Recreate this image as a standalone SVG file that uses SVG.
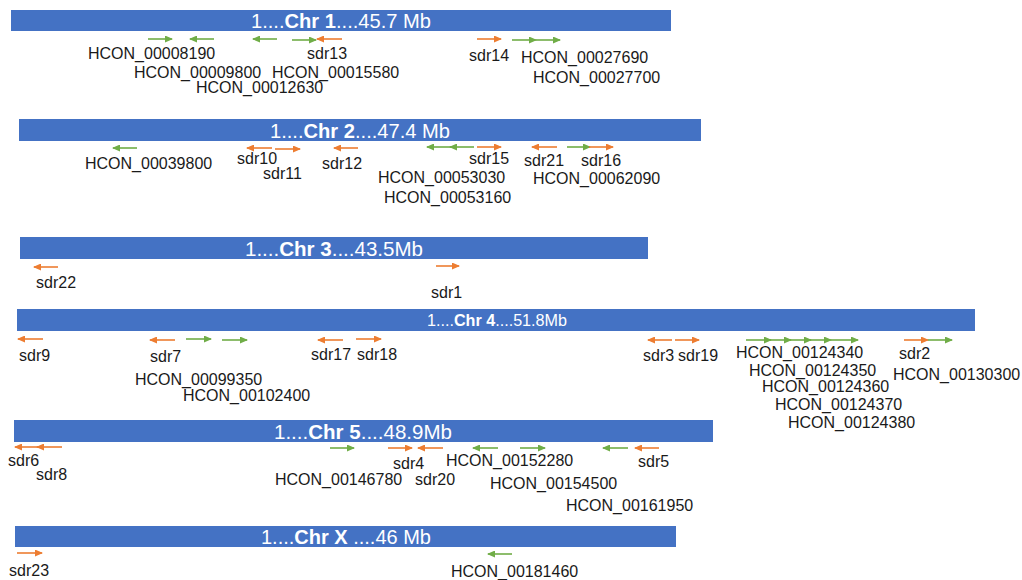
<svg xmlns="http://www.w3.org/2000/svg" width="1022" height="580" viewBox="0 0 1022 580">
  <style>
    .bar { fill: #4472C4; }
    .title { fill: #ffffff; font-family: "Liberation Sans", Arial, sans-serif; font-size: 21px; text-anchor: middle; }
    .title tspan.b { font-weight: bold; }
    .lbl { fill: #1a1a1a; font-family: "Liberation Sans", Arial, sans-serif; font-size: 16px; }
    .sdr { stroke: #ED7D31; stroke-width: 1.6; fill: none; marker-end: url(#headO); }
    .gene { stroke: #70AD47; stroke-width: 1.6; fill: none; marker-end: url(#headG); }
  </style>
  <defs>
    <marker id="headO" markerUnits="userSpaceOnUse" markerWidth="8" markerHeight="7" refX="7" refY="3.5" orient="auto">
      <path d="M0,0 L8,3.5 L0,7 Z" fill="#ED7D31"/>
    </marker>
    <marker id="headG" markerUnits="userSpaceOnUse" markerWidth="8" markerHeight="7" refX="7" refY="3.5" orient="auto">
      <path d="M0,0 L8,3.5 L0,7 Z" fill="#70AD47"/>
    </marker>
  </defs>
  <rect width="1022" height="580" fill="#ffffff"/>

  <!-- Chromosome 1 -->
  <g id="chr1">
    <rect class="bar" x="11" y="10" width="660" height="21"/>
    <text class="title" x="341" y="28" textLength="180" lengthAdjust="spacingAndGlyphs">1....<tspan class="b">Chr 1</tspan>....45.7 Mb</text>
  </g>
  <g id="chr1-labels" class="lbl">
    <text x="88" y="59">HCON_00008190</text>
    <text x="307" y="59">sdr13</text>
    <text x="134" y="78">HCON_00009800</text>
    <text x="272" y="78">HCON_00015580</text>
    <text x="196" y="93">HCON_00012630</text>
    <text x="469" y="61">sdr14</text>
    <text x="521" y="63">HCON_00027690</text>
    <text x="533" y="83">HCON_00027700</text>
  </g>

  <!-- Chromosome 2 -->
  <g id="chr2">
    <rect class="bar" x="19" y="119" width="682" height="22"/>
    <text class="title" x="360" y="138" textLength="180" lengthAdjust="spacingAndGlyphs">1....<tspan class="b">Chr 2</tspan>....47.4 Mb</text>
  </g>
  <g id="chr2-labels" class="lbl">
    <text x="85" y="169">HCON_00039800</text>
    <text x="237" y="164">sdr10</text>
    <text x="263" y="179">sdr11</text>
    <text x="322" y="169">sdr12</text>
    <text x="469" y="164">sdr15</text>
    <text x="524" y="166">sdr21</text>
    <text x="581" y="166">sdr16</text>
    <text x="378" y="183">HCON_00053030</text>
    <text x="533" y="184">HCON_00062090</text>
    <text x="384" y="203">HCON_00053160</text>
  </g>

  <!-- Chromosome 3 -->
  <g id="chr3">
    <rect class="bar" x="20" y="237" width="628" height="22"/>
    <text class="title" x="334" y="256" textLength="178" lengthAdjust="spacingAndGlyphs">1....<tspan class="b">Chr 3</tspan>....43.5Mb</text>
  </g>
  <g id="chr3-labels" class="lbl">
    <text x="36" y="288">sdr22</text>
    <text x="431" y="298">sdr1</text>
  </g>

  <!-- Chromosome 4 -->
  <g id="chr4">
    <rect class="bar" x="17" y="309" width="958" height="22"/>
    <text class="title" x="497" y="326" style="font-size:16px" textLength="140" lengthAdjust="spacingAndGlyphs">1....<tspan class="b">Chr 4</tspan>....51.8Mb</text>
  </g>
  <g id="chr4-labels" class="lbl">
    <text x="19" y="361">sdr9</text>
    <text x="150" y="362">sdr7</text>
    <text x="311" y="360">sdr17</text>
    <text x="357" y="360">sdr18</text>
    <text x="135" y="385">HCON_00099350</text>
    <text x="183" y="401">HCON_00102400</text>
    <text x="643" y="361">sdr3</text>
    <text x="678" y="361">sdr19</text>
    <text x="736" y="358">HCON_00124340</text>
    <text x="749" y="376">HCON_00124350</text>
    <text x="762" y="392">HCON_00124360</text>
    <text x="775" y="410">HCON_00124370</text>
    <text x="788" y="428">HCON_00124380</text>
    <text x="899" y="359">sdr2</text>
    <text x="893" y="380">HCON_00130300</text>
  </g>

  <!-- Chromosome 5 -->
  <g id="chr5">
    <rect class="bar" x="14" y="420" width="699" height="22"/>
    <text class="title" x="363" y="439" textLength="178" lengthAdjust="spacingAndGlyphs">1....<tspan class="b">Chr 5</tspan>....48.9Mb</text>
  </g>
  <g id="chr5-labels" class="lbl">
    <text x="8" y="466">sdr6</text>
    <text x="36" y="480">sdr8</text>
    <text x="275" y="485">HCON_00146780</text>
    <text x="393" y="469">sdr4</text>
    <text x="415" y="485">sdr20</text>
    <text x="446" y="466">HCON_00152280</text>
    <text x="490" y="489">HCON_00154500</text>
    <text x="638" y="467">sdr5</text>
    <text x="566" y="511">HCON_00161950</text>
  </g>

  <!-- Chromosome X -->
  <g id="chrX">
    <rect class="bar" x="15" y="526" width="661" height="21"/>
    <text class="title" x="346" y="544" textLength="170" lengthAdjust="spacingAndGlyphs">1....<tspan class="b">Chr X</tspan> ....46 Mb</text>
  </g>
  <g id="chrX-labels" class="lbl">
    <text x="9" y="576">sdr23</text>
    <text x="451" y="577">HCON_00181460</text>
  </g>

  <!-- Gene position arrows (orange: sdr, green: HCON) -->
  <g id="connectors">
    <!-- Chr 1 -->
    <line class="gene" x1="148" y1="39" x2="172" y2="39"/>
    <line class="gene" x1="214" y1="39" x2="190" y2="39"/>
    <line class="gene" x1="277" y1="39" x2="253" y2="39"/>
    <line class="gene" x1="292" y1="40" x2="316" y2="40"/>
    <line class="sdr" x1="342" y1="39" x2="317" y2="39"/>
    <line class="sdr" x1="477" y1="39" x2="501" y2="39"/>
    <line class="gene" x1="512" y1="40" x2="536" y2="40"/>
    <line class="gene" x1="536" y1="40" x2="560" y2="40"/>
    <!-- Chr 2 -->
    <line class="gene" x1="137" y1="148" x2="113" y2="148"/>
    <line class="sdr" x1="272" y1="148" x2="247" y2="148"/>
    <line class="sdr" x1="275" y1="149" x2="300" y2="149"/>
    <line class="sdr" x1="358" y1="148" x2="334" y2="148"/>
    <line class="gene" x1="451" y1="147" x2="427" y2="147"/>
    <line class="gene" x1="474" y1="147" x2="450" y2="147"/>
    <line class="sdr" x1="477" y1="147" x2="501" y2="147"/>
    <line class="sdr" x1="557" y1="147" x2="532" y2="147"/>
    <line class="gene" x1="567" y1="147" x2="590" y2="147"/>
    <line class="sdr" x1="589" y1="147" x2="613" y2="147"/>
    <!-- Chr 3 -->
    <line class="sdr" x1="58" y1="267" x2="34" y2="267"/>
    <line class="sdr" x1="436" y1="266" x2="459" y2="266"/>
    <!-- Chr 4 -->
    <line class="sdr" x1="43" y1="339" x2="18" y2="339"/>
    <line class="sdr" x1="175" y1="340" x2="150" y2="340"/>
    <line class="gene" x1="186" y1="339" x2="211" y2="339"/>
    <line class="gene" x1="222" y1="340" x2="247" y2="340"/>
    <line class="sdr" x1="343" y1="340" x2="318" y2="340"/>
    <line class="sdr" x1="356" y1="339" x2="381" y2="339"/>
    <line class="sdr" x1="672" y1="340" x2="648" y2="340"/>
    <line class="sdr" x1="675" y1="340" x2="699" y2="340"/>
    <line class="gene" x1="746" y1="340" x2="771" y2="340"/>
    <line class="gene" x1="767" y1="340" x2="791" y2="340"/>
    <line class="gene" x1="787" y1="340" x2="811" y2="340"/>
    <line class="gene" x1="807" y1="340" x2="831" y2="340"/>
    <line class="gene" x1="831" y1="340" x2="858" y2="340"/>
    <line class="sdr" x1="904" y1="340" x2="928" y2="340"/>
    <line class="gene" x1="928" y1="340" x2="952" y2="340"/>
    <!-- Chr 5 -->
    <line class="sdr" x1="40" y1="447" x2="15" y2="447"/>
    <line class="sdr" x1="62" y1="447" x2="37" y2="447"/>
    <line class="gene" x1="330" y1="448" x2="354" y2="448"/>
    <line class="sdr" x1="388" y1="448" x2="412" y2="448"/>
    <line class="sdr" x1="443" y1="448" x2="418" y2="448"/>
    <line class="gene" x1="498" y1="448" x2="473" y2="448"/>
    <line class="gene" x1="520" y1="448" x2="545" y2="448"/>
    <line class="gene" x1="628" y1="448" x2="603" y2="448"/>
    <line class="sdr" x1="659" y1="448" x2="635" y2="448"/>
    <!-- Chr X -->
    <line class="sdr" x1="17" y1="553" x2="42" y2="553"/>
    <line class="gene" x1="512" y1="554" x2="488" y2="554"/>
  </g>
</svg>
